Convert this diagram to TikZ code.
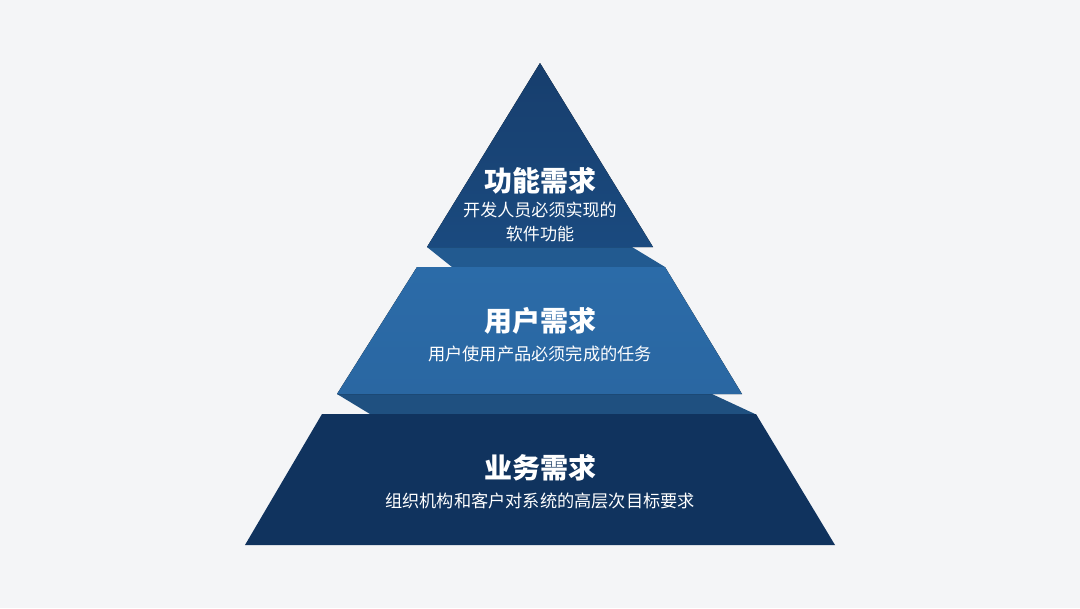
\documentclass[tikz,border=0pt]{standalone}
\usepackage{fontspec}
\newfontfamily\cjk{Noto Sans CJK SC}
\definecolor{bg}{HTML}{F4F5F7}
\definecolor{topc}{HTML}{1A4A7F}
\definecolor{topd}{HTML}{173E6D}
\definecolor{bandA}{HTML}{225A90}
\definecolor{midc}{HTML}{2B6BA8}
\definecolor{midd}{HTML}{2A67A2}
\definecolor{bandB}{HTML}{1F5080}
\definecolor{botc}{HTML}{10335E}
\tikzset{
  title/.style={text=white, font=\cjk\bfseries\fontsize{21}{24}\selectfont, inner sep=0pt},
  sub/.style={text=white, font=\cjk\fontsize{#1}{#1}\selectfont, inner sep=0pt, align=center},
}
\begin{document}
\begin{tikzpicture}[x=0.75pt,y=-0.75pt]
\fill[bg] (0,0) rectangle (1080,608);
\useasboundingbox (0,0) rectangle (1080,608);
% bands (back faces)
\fill[bandA] (427,247) -- (632,247) -- (665,267) -- (452,267) -- cycle;
\fill[bandB] (337,394) -- (712,394) -- (755,414) -- (370,414) -- cycle;
% tiers
\fill[top color=topd, bottom color=topc] (540,63) -- (653,247) -- (427,247) -- cycle;
\fill[top color=midc, bottom color=midd] (417,267) -- (665,267) -- (742,394) -- (337,394) -- cycle;
\fill[botc] (322,414) -- (756,414) -- (835,545) -- (245,545) -- cycle;
% texts
\node[title] (t1) at (540,181) {功能需求};
\node[sub=12.8] (s1) at (540,222) {开发人员必须实现的\\[5pt]软件功能};
\node[title] (t2) at (540,321) {用户需求};
\node[sub=12.9] (s2) at (540,354) {用户使用产品必须完成的任务};
\node[title] (t3) at (540,468) {业务需求};
\node[sub=12.9] (s3) at (540,501) {组织机构和客户对系统的高层次目标要求};
\end{tikzpicture}
\end{document}
